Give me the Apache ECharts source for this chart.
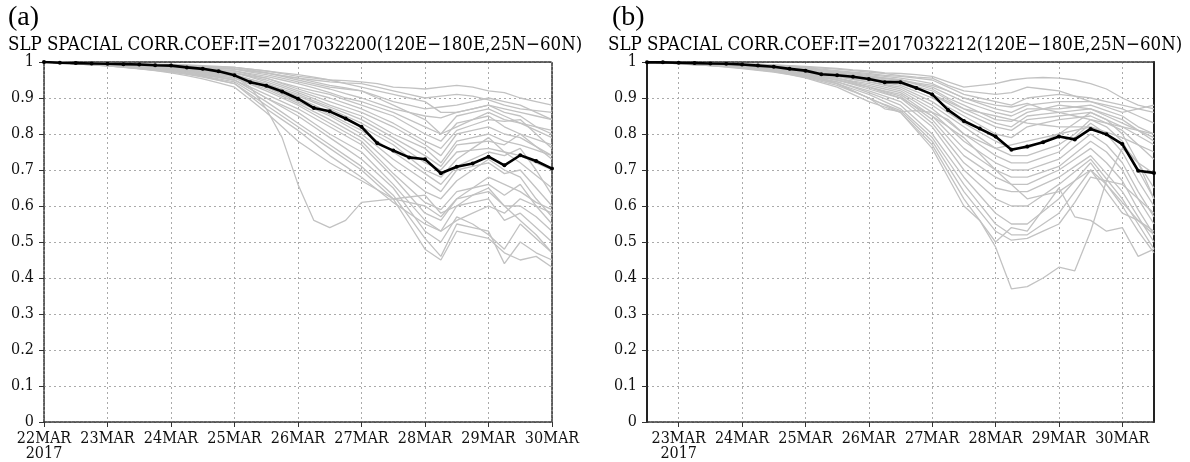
<!DOCTYPE html>
<html><head><meta charset="utf-8">
<script src="https://cdn.jsdelivr.net/npm/echarts@6/dist/echarts.min.js"></script>
<style>html,body{margin:0;padding:0;background:#fff}#c{width:1190px;height:462px}</style>
</head><body><div id="c"></div>
<script>
// ---------- categories / tick labels ----------
const dayNames = ['22MAR','23MAR','24MAR','25MAR','26MAR','27MAR','28MAR','29MAR','30MAR'];
const hourNames = ['00','06','12','18'];
const yearLabel = '2017';
const yTickLabels = ['0','0.1','0.2','0.3','0.4','0.5','0.6','0.7','0.8','0.9','1'];
const titleA = 'SLP SPACIAL CORR.COEF:IT=2017032200(120E\u2212180E,25N\u221260N)';
const titleB = 'SLP SPACIAL CORR.COEF:IT=2017032212(120E\u2212180E,25N\u221260N)';
const panelA = '(a)', panelB = '(b)';

// ---------- panel (a): initial 2017032200, 6-hourly 22MAR00..30MAR00 ----------
const blackA = [1,.998,.997,.996,.995,.994,.993,.991,.99,.985,.981,.974,.963,.944,.934,.918,.898,.872,.863,.843,.82,.774,.754,.735,.73,.691,.709,.718,.737,.713,.741,.725,.704];
const a01 = [1,.999,.998,.997,.997,.996,.995,.994,.993,.992,.99,.988,.985,.98,.975,.968,.96,.955,.95,.948,.945,.94,.93,.928,.925,.93,.935,.93,.92,.915,.90,.89,.88];
const a02 = [1,.999,.998,.997,.996,.995,.994,.993,.991,.99,.988,.986,.985,.978,.97,.962,.955,.95,.945,.942,.94,.93,.92,.91,.90,.905,.91,.905,.895,.88,.87,.865,.86];
const a03 = [1,.999,.998,.997,.996,.995,.993,.992,.99,.988,.986,.983,.98,.975,.97,.96,.95,.94,.93,.925,.92,.905,.89,.88,.87,.875,.88,.89,.90,.89,.88,.86,.84];
const a04 = [1,.999,.998,.997,.996,.994,.993,.991,.989,.987,.985,.982,.98,.972,.965,.955,.945,.935,.925,.912,.90,.885,.87,.86,.85,.845,.86,.87,.88,.86,.85,.82,.80];
const a05 = [1,.999,.998,.997,.995,.994,.992,.99,.988,.986,.983,.979,.975,.968,.96,.95,.94,.928,.915,.9,.89,.875,.86,.84,.82,.80,.85,.86,.87,.85,.83,.81,.79];
const a06 = [1,.999,.998,.996,.995,.993,.992,.99,.987,.985,.982,.978,.975,.965,.955,.942,.93,.92,.91,.895,.88,.865,.85,.825,.80,.78,.83,.84,.85,.82,.80,.785,.77];
const a07 = [1,.999,.997,.996,.995,.993,.991,.989,.987,.984,.98,.975,.97,.962,.955,.94,.925,.912,.90,.885,.87,.85,.83,.805,.78,.76,.81,.825,.84,.835,.84,.80,.76];
const a08 = [1,.999,.997,.996,.994,.993,.991,.989,.986,.983,.979,.975,.97,.96,.95,.935,.92,.905,.89,.875,.86,.84,.82,.795,.77,.74,.80,.81,.82,.80,.79,.765,.74];
const a09 = [1,.998,.997,.996,.994,.992,.99,.988,.985,.982,.978,.974,.97,.958,.945,.93,.915,.898,.88,.865,.85,.825,.80,.78,.76,.72,.78,.79,.80,.78,.77,.755,.74];
const a10 = [1,.998,.997,.995,.994,.992,.99,.987,.984,.98,.976,.971,.965,.952,.94,.925,.91,.892,.875,.858,.84,.815,.79,.765,.74,.71,.77,.775,.78,.77,.80,.765,.73];
const a11 = [1,.998,.997,.995,.993,.991,.989,.986,.983,.979,.975,.97,.965,.952,.94,.922,.905,.888,.87,.85,.83,.805,.78,.75,.72,.70,.75,.755,.76,.75,.74,.72,.70];
const a12 = [1,.998,.996,.995,.993,.991,.988,.985,.982,.978,.973,.967,.96,.948,.935,.918,.90,.88,.86,.84,.82,.795,.77,.735,.70,.68,.73,.76,.79,.75,.72,.685,.65];
const a13 = [1,.998,.996,.994,.992,.99,.988,.985,.981,.977,.972,.966,.96,.945,.93,.912,.895,.875,.855,.832,.81,.78,.75,.72,.69,.66,.71,.73,.75,.74,.76,.70,.63];
const a14 = [1,.998,.996,.994,.992,.99,.987,.984,.98,.976,.971,.965,.96,.945,.93,.91,.89,.87,.85,.825,.80,.765,.73,.70,.67,.64,.70,.71,.72,.69,.70,.65,.60];
const a15 = [1,.998,.996,.994,.992,.989,.986,.983,.979,.975,.969,.962,.955,.94,.925,.905,.885,.862,.84,.815,.79,.75,.71,.675,.64,.62,.67,.70,.73,.70,.68,.62,.57];
const a16 = [1,.998,.996,.994,.991,.989,.986,.982,.978,.973,.968,.961,.955,.938,.92,.90,.88,.855,.83,.805,.78,.735,.69,.65,.61,.59,.64,.65,.66,.63,.66,.60,.55];
const a17 = [1,.998,.996,.993,.991,.988,.985,.981,.977,.972,.966,.958,.95,.93,.91,.89,.87,.845,.82,.795,.77,.725,.68,.63,.58,.56,.62,.63,.64,.60,.60,.57,.53];
const a18 = [1,.998,.996,.993,.99,.988,.984,.98,.976,.97,.964,.957,.95,.925,.90,.88,.86,.83,.80,.775,.75,.705,.66,.61,.56,.53,.60,.61,.62,.56,.58,.54,.50];
const a19 = [1,.998,.995,.993,.99,.987,.984,.98,.975,.969,.963,.957,.95,.925,.90,.875,.85,.82,.79,.76,.73,.69,.65,.59,.53,.50,.57,.55,.52,.48,.55,.51,.47];
const a20 = [1,.998,.995,.993,.99,.987,.983,.979,.974,.968,.961,.953,.945,.918,.89,.86,.83,.80,.77,.74,.71,.67,.63,.57,.51,.46,.55,.54,.53,.44,.50,.47,.45];
const a21 = [1,.998,.995,.992,.989,.986,.982,.978,.973,.967,.96,.95,.94,.91,.88,.85,.82,.79,.76,.73,.70,.66,.62,.55,.48,.45,.53,.52,.51,.47,.45,.46,.43];
const a22 = [1,.998,.995,.992,.989,.986,.982,.977,.972,.966,.958,.949,.94,.905,.87,.84,.81,.775,.74,.71,.68,.645,.61,.58,.55,.53,.56,.58,.60,.58,.62,.60,.58];
const a23 = [1,.999,.997,.995,.993,.991,.989,.986,.983,.979,.975,.968,.96,.93,.87,.79,.66,.56,.54,.56,.61,.615,.62,.625,.63,.58,.60,.63,.65,.60,.56,.52,.47];
const a24 = [1,.998,.995,.992,.989,.985,.981,.976,.97,.962,.953,.942,.93,.895,.86,.82,.78,.75,.72,.695,.67,.645,.62,.61,.60,.57,.62,.65,.68,.66,.64,.61,.59];
const a25 = [1,.999,.998,.997,.996,.995,.994,.993,.991,.99,.988,.987,.985,.98,.975,.97,.965,.958,.95,.94,.93,.92,.91,.90,.89,.86,.86,.87,.88,.87,.86,.85,.84];
const a26 = [1,.999,.998,.997,.996,.995,.993,.991,.989,.987,.985,.983,.98,.975,.97,.962,.955,.945,.935,.928,.92,.90,.88,.86,.84,.80,.82,.84,.86,.84,.83,.82,.81];
const membersA = [a01,a02,a03,a04,a05,a06,a07,a08,a09,a10,a11,a12,a13,a14,a15,a16,a17,a18,a19,a20,a21,a22,a23,a24,a25,a26];

// ---------- panel (b): initial 2017032212, 6-hourly 22MAR12..30MAR12 ----------
const blackB = [.999,.999,.998,.997,.996,.995,.993,.99,.987,.981,.976,.966,.963,.959,.953,.944,.944,.928,.91,.867,.836,.815,.793,.756,.765,.777,.793,.785,.814,.799,.772,.698,.692];
const b01 = [1,.999,.999,.998,.997,.996,.995,.994,.992,.99,.988,.985,.982,.978,.975,.97,.968,.965,.96,.945,.93,.935,.94,.95,.955,.957,.955,.95,.94,.925,.90,.88,.87];
const b02 = [1,.999,.999,.998,.997,.996,.995,.993,.991,.989,.986,.983,.98,.976,.972,.968,.962,.958,.955,.935,.92,.915,.91,.915,.93,.925,.92,.905,.89,.875,.86,.87,.88];
const b03 = [1,.999,.998,.997,.996,.995,.994,.992,.99,.987,.984,.98,.976,.972,.968,.963,.96,.955,.95,.93,.91,.90,.89,.88,.90,.905,.91,.905,.90,.89,.88,.87,.86];
const b04 = [1,.999,.998,.997,.996,.995,.993,.991,.989,.986,.982,.978,.974,.97,.965,.96,.955,.948,.94,.92,.90,.885,.87,.86,.88,.885,.89,.89,.89,.88,.87,.85,.83];
const b05 = [1,.999,.998,.997,.996,.994,.993,.99,.988,.985,.981,.976,.972,.968,.962,.956,.95,.94,.93,.91,.89,.875,.86,.85,.87,.87,.87,.875,.88,.865,.85,.82,.80];
const b06 = [1,.999,.998,.997,.995,.994,.992,.99,.987,.984,.98,.974,.968,.965,.958,.954,.95,.938,.925,.90,.88,.86,.84,.835,.86,.87,.88,.875,.87,.85,.83,.81,.79];
const b07 = [1,.999,.998,.996,.995,.993,.991,.989,.986,.982,.978,.972,.966,.962,.955,.95,.945,.932,.92,.895,.87,.85,.83,.82,.85,.855,.86,.865,.87,.855,.84,.81,.78];
const b08 = [1,.999,.998,.996,.995,.993,.991,.988,.985,.981,.976,.97,.965,.958,.95,.945,.94,.925,.91,.885,.86,.84,.82,.81,.84,.845,.85,.855,.86,.84,.82,.795,.77];
const b09 = [1,.999,.997,.996,.994,.993,.99,.987,.984,.98,.975,.968,.962,.955,.95,.942,.935,.918,.90,.875,.85,.825,.80,.79,.82,.83,.84,.845,.85,.83,.81,.77,.73];
const b10 = [1,.999,.997,.996,.994,.992,.99,.987,.983,.979,.974,.967,.96,.952,.945,.938,.93,.91,.89,.86,.83,.805,.78,.76,.76,.78,.80,.83,.86,.84,.80,.72,.65];
const b11 = [1,.999,.997,.995,.994,.992,.989,.986,.982,.978,.973,.966,.96,.952,.945,.935,.925,.903,.88,.85,.82,.79,.76,.74,.74,.755,.77,.80,.84,.82,.78,.70,.62];
const b12 = [1,.999,.997,.995,.993,.991,.989,.985,.981,.977,.971,.963,.955,.947,.94,.93,.92,.895,.87,.835,.80,.77,.74,.72,.72,.735,.75,.79,.83,.80,.75,.67,.60];
const b13 = [1,.998,.997,.995,.993,.991,.988,.985,.98,.976,.97,.962,.955,.945,.935,.925,.915,.888,.86,.82,.78,.75,.72,.70,.70,.715,.73,.765,.80,.77,.72,.64,.57];
const b14 = [1,.998,.997,.995,.993,.99,.988,.984,.98,.975,.969,.96,.95,.94,.93,.92,.91,.88,.85,.805,.76,.73,.70,.68,.68,.695,.71,.745,.78,.75,.70,.62,.55];
const b15 = [1,.998,.996,.995,.992,.99,.987,.983,.979,.974,.967,.958,.95,.94,.93,.918,.905,.872,.84,.79,.74,.71,.68,.66,.66,.68,.70,.73,.76,.72,.67,.59,.52];
const b16 = [1,.998,.996,.994,.992,.989,.986,.982,.978,.972,.965,.957,.95,.938,.925,.912,.90,.865,.83,.775,.72,.685,.65,.64,.64,.66,.68,.71,.74,.69,.64,.57,.50];
const b17 = [1,.998,.996,.994,.991,.989,.985,.981,.977,.971,.963,.954,.945,.932,.92,.905,.89,.855,.82,.76,.70,.66,.62,.60,.60,.63,.66,.695,.73,.675,.62,.55,.48];
const b18 = [1,.998,.996,.994,.991,.988,.985,.981,.976,.97,.962,.953,.945,.93,.915,.898,.88,.84,.80,.74,.68,.63,.58,.55,.55,.585,.62,.67,.72,.66,.60,.53,.47];
const b19 = [1,.998,.996,.993,.991,.988,.984,.98,.975,.968,.96,.95,.94,.925,.91,.89,.87,.83,.79,.725,.66,.605,.55,.52,.52,.55,.58,.64,.70,.64,.58,.56,.53];
const b20 = [1,.998,.996,.993,.99,.987,.984,.979,.974,.967,.959,.95,.94,.92,.90,.882,.865,.822,.78,.71,.64,.585,.53,.505,.51,.53,.55,.61,.68,.67,.66,.62,.58];
const b21 = [1,.998,.995,.993,.99,.987,.983,.978,.973,.966,.957,.946,.935,.918,.90,.88,.86,.815,.77,.695,.62,.56,.50,.54,.53,.59,.65,.57,.56,.53,.54,.46,.48];
const b22 = [1,.998,.995,.992,.99,.986,.982,.977,.972,.965,.956,.943,.93,.91,.89,.875,.86,.81,.76,.68,.60,.56,.486,.37,.376,.40,.43,.42,.53,.67,.76,.72,.62];
const b23 = [1,.999,.998,.997,.996,.995,.993,.991,.989,.986,.982,.976,.97,.965,.96,.955,.95,.942,.935,.92,.90,.89,.88,.875,.885,.87,.86,.85,.84,.83,.82,.81,.80];
const b24 = [1,.999,.998,.997,.996,.994,.992,.99,.987,.983,.979,.97,.96,.958,.955,.948,.94,.925,.91,.89,.87,.86,.85,.84,.83,.825,.82,.82,.82,.805,.79,.77,.75];
const b25 = [1,.999,.998,.996,.995,.993,.99,.986,.981,.974,.966,.955,.94,.92,.90,.87,.862,.865,.86,.84,.80,.78,.76,.77,.78,.79,.80,.81,.82,.80,.77,.72,.69];
const b26 = [1,.998,.996,.994,.992,.989,.986,.982,.977,.971,.964,.96,.955,.943,.93,.915,.90,.875,.85,.82,.79,.745,.70,.66,.62,.63,.64,.67,.70,.66,.61,.56,.52];
const membersB = [b01,b02,b03,b04,b05,b06,b07,b08,b09,b10,b11,b12,b13,b14,b15,b16,b17,b18,b19,b20,b21,b22,b23,b24,b25,b26];

// ---------- build category lists ----------
const allTimes = [];
dayNames.forEach(d => hourNames.forEach(h => allTimes.push(d + h)));
const timesA = allTimes.slice(0, 33);   // 22MAR00 .. 30MAR00
const timesB = allTimes.slice(2, 35);   // 22MAR12 .. 30MAR12

const FONT = "'DejaVu Serif Condensed','DejaVu Serif',serif";
const FS = 16;
const TFS = 18.5;
const dashedBorder = {color: '#333', width: 1.5, type: [3, 1]};
const solidBorder = {color: '#222', width: 2};
const gridLine = {color: '#aaa', width: 1, type: [2, 3]};

function dayTick(offset) { return (i) => i % 4 === offset; }
function xLabel(firstIdx) {
  return (v, i) => {
    const s = v.slice(0, 5);
    return i === firstIdx ? s + '\n' + yearLabel : s;
  };
}

function xAxes(gridIndex, times, offset, bottomStyle, topStyle) {
  return [
    {type: 'category', gridIndex, data: times, boundaryGap: false, position: 'bottom',
     axisLine: {show: true, onZero: false, lineStyle: bottomStyle},
     axisTick: {show: true, interval: dayTick(offset), length: 5, lineStyle: {color: '#333', width: 1}},
     axisLabel: {interval: dayTick(offset), formatter: xLabel(offset), fontFamily: FONT, fontSize: FS, color: '#111', margin: 9, lineHeight: 15},
     splitLine: {show: true, interval: dayTick(offset), lineStyle: gridLine}},
    {type: 'category', gridIndex, data: times, boundaryGap: false, position: 'top',
     axisLine: {show: true, onZero: false, lineStyle: topStyle},
     axisTick: {show: false}, axisLabel: {show: false}, splitLine: {show: false}}
  ];
}
function yAxes(gridIndex, leftStyle, rightStyle) {
  return [
    {type: 'value', gridIndex, min: 0, max: 1, interval: 0.1, position: 'left',
     axisLine: {show: true, lineStyle: leftStyle},
     axisTick: {show: true, length: 5, lineStyle: {color: '#333', width: 1}},
     axisLabel: {formatter: v => yTickLabels[Math.round(v * 10)], fontFamily: FONT, fontSize: FS, color: '#111', margin: 10},
     splitLine: {show: true, lineStyle: gridLine}},
    {type: 'value', gridIndex, min: 0, max: 1, interval: 0.1, position: 'right',
     axisLine: {show: true, lineStyle: rightStyle},
     axisTick: {show: false}, axisLabel: {show: false}, splitLine: {show: false}}
  ];
}

const series = [];
function addPanel(members, black, xi, yi) {
  members.forEach(m => series.push({type: 'line', xAxisIndex: xi, yAxisIndex: yi, data: m, symbol: 'none',
    lineStyle: {color: '#c2c2c2', width: 1.3}, z: 2, silent: true}));
  series.push({type: 'line', xAxisIndex: xi, yAxisIndex: yi, data: black, symbol: 'circle', symbolSize: 4,
    itemStyle: {color: '#000'}, lineStyle: {color: '#000', width: 2.6}, z: 5, silent: true});
}
addPanel(membersA, blackA, 0, 0);
addPanel(membersB, blackB, 2, 2);

const chart = echarts.init(document.getElementById('c'), null, {renderer: 'canvas'});
chart.setOption({
  animation: false,
  backgroundColor: '#fff',
  title: [
    {text: panelA, left: 8, top: 4, padding: 0, textStyle: {fontFamily: "'Liberation Serif',serif", fontSize: 28, fontWeight: 'normal', color: '#000'}},
    {text: titleA, left: 8, top: 36, padding: 0, textStyle: {fontFamily: FONT, fontSize: TFS, fontWeight: 'normal', color: '#000'}},
    {text: panelB, left: 612, top: 4, padding: 0, textStyle: {fontFamily: "'Liberation Serif',serif", fontSize: 28, fontWeight: 'normal', color: '#000'}},
    {text: titleB, left: 608, top: 36, padding: 0, textStyle: {fontFamily: FONT, fontSize: TFS, fontWeight: 'normal', color: '#000'}}
  ],
  grid: [
    {left: 44, right: 638, top: 62, bottom: 40},
    {left: 647, right: 36, top: 62, bottom: 40}
  ],
  xAxis: [...xAxes(0, timesA, 0, dashedBorder, dashedBorder), ...xAxes(1, timesB, 2, dashedBorder, dashedBorder)],
  yAxis: [...yAxes(0, dashedBorder, dashedBorder), ...yAxes(1, solidBorder, solidBorder)],
  series
});
</script></body></html>
